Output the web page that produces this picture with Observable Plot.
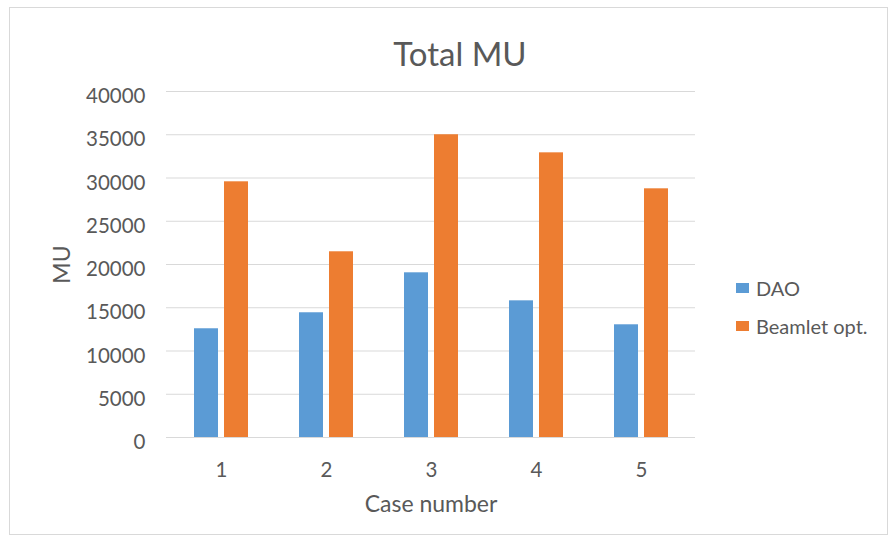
<!DOCTYPE html>
<html>
<head>
<meta charset="utf-8">
<script src="https://cdn.jsdelivr.net/npm/d3@7"></script>
<script src="https://cdn.jsdelivr.net/npm/@observablehq/plot@0.6"></script>
<style>
  html, body { margin: 0; padding: 0; background: #fff; }
  #wrap { position: relative; width: 895px; height: 538px; font-family: Lato, "Open Sans", sans-serif; color: #595959; }
  #border { position: absolute; left: 9px; top: 7px; width: 879px; height: 528px; border: 1px solid #D9D9D9; box-sizing: border-box; }
  #title { position: absolute; left: 0; width: 920px; top: 34px; text-align: center; font-size: 33px; line-height: 38px; }
  #chart { position: absolute; left: 0; top: 0; }
  .leg { position: absolute; left: 736px; font-size: 20px; line-height: 22px; display: flex; align-items: center; }
  .sw { width: 13px; height: 10px; margin-right: 7px; }
</style>
</head>
<body>
<div id="wrap">
  <div id="border"></div>
  <div id="chart"></div>
  <div id="title">Total MU</div>
  <div class="leg" id="leg0" style="top:277px"></div>
  <div class="leg" id="leg1" style="top:315px"></div>
</div>
<script>
const cases = ["1", "2", "3", "4", "5"];
const series = ["DAO", "Beamlet opt."];
const dao = [12570, 14420, 19040, 15800, 13030];
const beamlet = [29560, 21470, 35000, 32910, 28750];
const yTicks = [0, 5000, 10000, 15000, 20000, 25000, 30000, 35000, 40000];
const colors = ["#5B9BD5", "#ED7D31"];

const rows = cases.map((c, i) => ({case: c, DAO: dao[i], Beamlet: beamlet[i]}));

const chart = Plot.plot({
  width: 895,
  height: 538,
  marginLeft: 166,
  marginRight: 200,
  marginTop: 91,
  marginBottom: 101,
  style: {background: "transparent", fontFamily: "Lato, 'Open Sans', sans-serif", color: "#595959"},
  x: {domain: cases, paddingInner: 0.49, paddingOuter: 0.245},
  y: {domain: [0, 40000]},
  marks: [
    Plot.gridY(yTicks, {stroke: "#D9D9D9", strokeOpacity: 1, strokeWidth: 1.2}),
    Plot.barY(rows, {x: "case", y: "DAO", fill: colors[0], insetRight: 30}),
    Plot.barY(rows, {x: "case", y: "Beamlet", fill: colors[1], insetLeft: 30}),
    Plot.axisY(yTicks, {tickSize: 0, tickPadding: 21, fontSize: 20.5, dy: 5, fill: "#595959",
      tickFormat: d => String(d), label: "MU", labelAnchor: "center", labelOffset: 113, labelArrow: "none"}),
    Plot.axisX({tickSize: 0, tickPadding: 25, fontSize: 20.5, fill: "#595959",
      label: "Case number", labelAnchor: "center", labelOffset: 74, labelArrow: "none"})
  ]
});
document.getElementById("chart").appendChild(chart);

series.forEach((s, i) => {
  const el = document.getElementById("leg" + i);
  const sw = document.createElement("div");
  sw.className = "sw";
  sw.style.background = colors[i];
  el.appendChild(sw);
  const t = document.createElement("span");
  t.textContent = s;
  el.appendChild(t);
});

chart.querySelectorAll("g[aria-label='y-axis label'] text, g[aria-label='x-axis label'] text").forEach(t => {
  t.setAttribute("font-size", "23");
});
</script>
</body>
</html>
